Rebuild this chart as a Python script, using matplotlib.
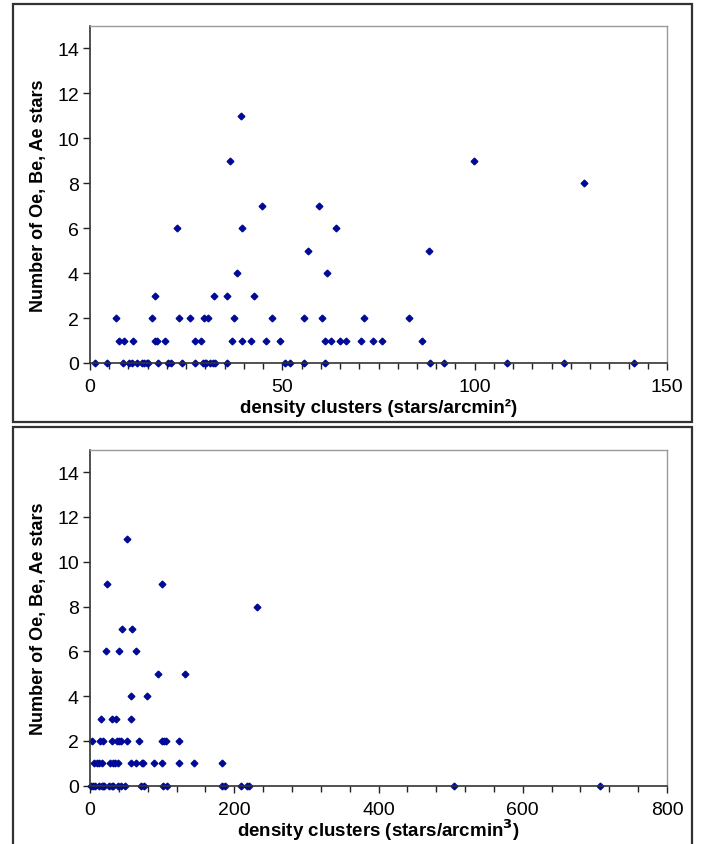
import matplotlib

matplotlib.use("Agg")
import matplotlib.pyplot as plt
from matplotlib.patches import Rectangle
from matplotlib.ticker import MultipleLocator

plt.rcParams["font.family"] = ["Liberation Sans", "DejaVu Sans"]

# surface density (stars/arcmin^2) vs number of emission-line stars
area_x = [1.3, 4.5, 8.7, 10.1, 10.8, 12.3, 13.4, 14.0, 14.7, 15.1, 17.8, 20.3, 21.0, 23.9,
          27.2, 29.5, 29.8, 30.2, 31.2, 31.9, 32.6, 35.6, 50.7, 52.0, 55.7, 61.1,
          88.4, 92.1, 108.5, 123.2, 141.5,
          7.6, 8.8, 11.3, 16.9, 17.3, 19.5, 27.2, 28.8, 36.8, 39.6, 41.9, 45.8, 49.5,
          61.1, 62.7, 65.0, 66.6, 70.5, 73.7, 75.9, 86.4,
          6.8, 16.0, 23.1, 26.0, 29.6, 30.7, 37.4, 47.3, 55.7, 60.2, 71.2, 82.9,
          16.8, 32.2, 35.6, 42.6,
          38.1, 61.7,
          56.6, 88.0,
          22.6, 39.6, 64.0,
          44.6, 59.5,
          128.4,
          36.5, 99.7,
          39.3]
area_n = [0] * 31 + [1] * 21 + [2] * 12 + [3] * 4 + [4] * 2 + [5] * 2 + [6] * 3 + [7] * 2 + [8] + [9] * 2 + [11]

# volume density (stars/arcmin^3) vs number of emission-line stars
vol_x = [0.9, 3.7, 6.5, 13.0, 16.2, 18.5, 19.9, 26.8, 30.1, 32.4, 39.3, 43.0, 48.5, 70.3,
         75.4, 101.7, 107.3, 183.0, 187.7, 209.5, 217.3, 221.0, 504.0, 707.0,
         6.0, 9.2, 13.0, 16.6, 27.7, 32.4, 35.2, 39.3, 56.4, 63.8, 71.6, 74.0, 88.3,
         99.4, 123.9, 144.2, 183.6,
         2.3, 13.9, 18.5, 31.0, 37.9, 40.7, 43.5, 50.8, 67.5, 99.9, 103.1, 105.4, 123.0,
         14.8, 30.5, 36.1, 56.4,
         57.3, 79.5,
         94.3, 131.8,
         22.7, 39.8, 64.3,
         43.9, 58.7,
         231.2,
         23.6, 99.9,
         50.8]
vol_n = [0] * 24 + [1] * 17 + [2] * 13 + [3] * 4 + [4] * 2 + [5] * 2 + [6] * 3 + [7] * 2 + [8] + [9] * 2 + [11]

W, H = 706, 845
fig = plt.figure(figsize=(W / 100, H / 100), dpi=100)


def fx(px):
    return px / W


def fy(py):
    return 1 - py / H


# outer frames around each chart
for top, bottom in [(5, 423), (428, 850)]:
    fig.patches.append(Rectangle((fx(13), fy(bottom)), fx(692) - fx(13), fy(top) - fy(bottom),
                                 transform=fig.transFigure, fill=False, edgecolor="#333333", linewidth=1.6))

panels = [
    (27, 364, area_x, area_n, 150, 50, 5, "density clusters (stars/arcmin\u00b2)", 2),
    (450.7, 786.7, vol_x, vol_n, 800, 200, 40, r"density clusters (stars/arcmin$^{\mathbf{3}}$)", -1),
]

for top, bottom, xs, ys, xmax, major, minor, xlabel, lpad in panels:
    ax = fig.add_axes([fx(90), fy(bottom), fx(667) - fx(90), fy(top) - fy(bottom)])
    ax.plot(xs, ys, linestyle="none", marker="D", markersize=3.4, color="#000a96", clip_on=False)
    ax.set_xlim(0, xmax)
    ax.set_ylim(0, 15)
    ax.xaxis.set_major_locator(MultipleLocator(major))
    ax.xaxis.set_minor_locator(MultipleLocator(minor))
    ax.set_yticks(range(0, 15, 2))
    ax.tick_params(axis="both", which="major", direction="out", length=5, width=1, labelsize=14, pad=3,
                   colors="#222222", labelcolor="black")
    ax.tick_params(axis="x", which="major", pad=6)
    ax.tick_params(axis="x", which="minor", direction="out", length=4, width=1, colors="#222222")
    for side in ["top", "right"]:
        ax.spines[side].set_color("#9a9a9a")
        ax.spines[side].set_linewidth(1)
    for side in ["left", "bottom"]:
        ax.spines[side].set_color("#333333")
        ax.spines[side].set_linewidth(1.2)
    ax.set_xlabel(xlabel, fontsize=13.5, fontweight="bold", labelpad=lpad)
    ax.set_ylabel("Number of Oe, Be, Ae stars", fontsize=13, fontweight="bold", labelpad=7)

fig.savefig("out.png", dpi=100)
